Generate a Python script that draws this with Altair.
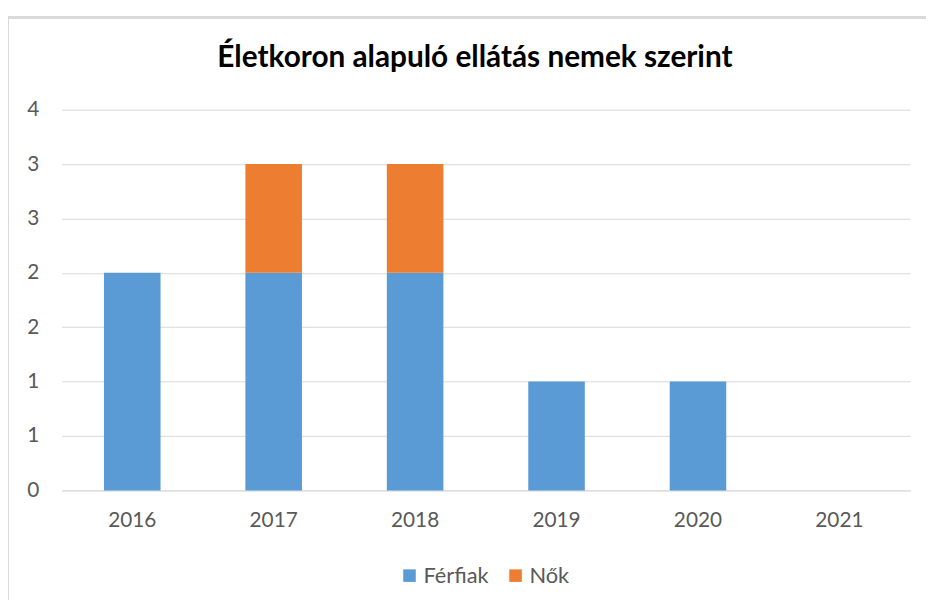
import altair as alt
import pandas as pd

years = ["2016", "2017", "2018", "2019", "2020", "2021"]
ferfiak = [2, 2, 2, 1, 1, 0]
nok = [0, 1, 1, 0, 0, 0]
series = ["Férfiak", "Nők"]
colors = ["#5B9BD5", "#ED7D31"]
y_ticks = [0, 0.5, 1, 1.5, 2, 2.5, 3, 3.5]

rows = []
for i, y in enumerate(years):
    rows.append({"year": y, "series": series[0], "value": ferfiak[i], "ord": 0})
    rows.append({"year": y, "series": series[1], "value": nok[i], "ord": 1})
df = pd.DataFrame(rows)

FONT = "Lato"

bars = alt.Chart(df).mark_bar().encode(
    x=alt.X("year:N", sort=years, title=None,
            scale=alt.Scale(paddingInner=0.6, paddingOuter=0.3),
            axis=alt.Axis(labelAngle=0, ticks=False, domain=True, domainColor="#d9d9d9",
                          labelFontSize=21, labelColor="#595959", labelPadding=19,
                          labelFont=FONT)),
    y=alt.Y("value:Q", stack="zero", title=None,
            scale=alt.Scale(domain=[0, 3.5], nice=False),
            axis=alt.Axis(values=y_ticks, labelExpr="round(datum.value)", ticks=False,
                          domain=False, gridColor="#d9d9d9", labelFontSize=21,
                          labelColor="#595959", labelPadding=23, labelFont=FONT)),
    color=alt.Color("series:N", sort=series,
                    scale=alt.Scale(domain=series, range=colors),
                    legend=alt.Legend(title=None, orient="none", legendX=340, legendY=459,
                                      direction="horizontal",
                                      symbolType="square", symbolSize=160,
                                      symbolStrokeWidth=0, labelFontSize=22,
                                      labelColor="#595959", labelFont=FONT,
                                      labelOffset=3, columnPadding=16)),
    order=alt.Order("ord:Q"),
)

border_top = alt.Chart(df).mark_rule(color="#d9d9d9", strokeWidth=2).encode(
    x=alt.value(-55), x2=alt.value(880), y=alt.value(-93))
border_left = alt.Chart(df).mark_rule(color="#d9d9d9", strokeWidth=2).encode(
    x=alt.value(-54), y=alt.value(-93), y2=alt.value(500))

chart = alt.layer(border_top, border_left, bars).properties(
    width=856, height=384,
    autosize=alt.AutoSizeParams(type="none"),
    padding={"left": 54, "top": 100, "right": 16, "bottom": 108},
    title=alt.TitleParams("Életkoron alapuló ellátás nemek szerint", fontSize=30,
                          font=FONT, fontWeight="bold", color="#000000",
                          offset=-57, dx=-11),
).configure_view(stroke=None)

chart.save("out.html", embed_options={"renderer": "svg", "actions": False})
